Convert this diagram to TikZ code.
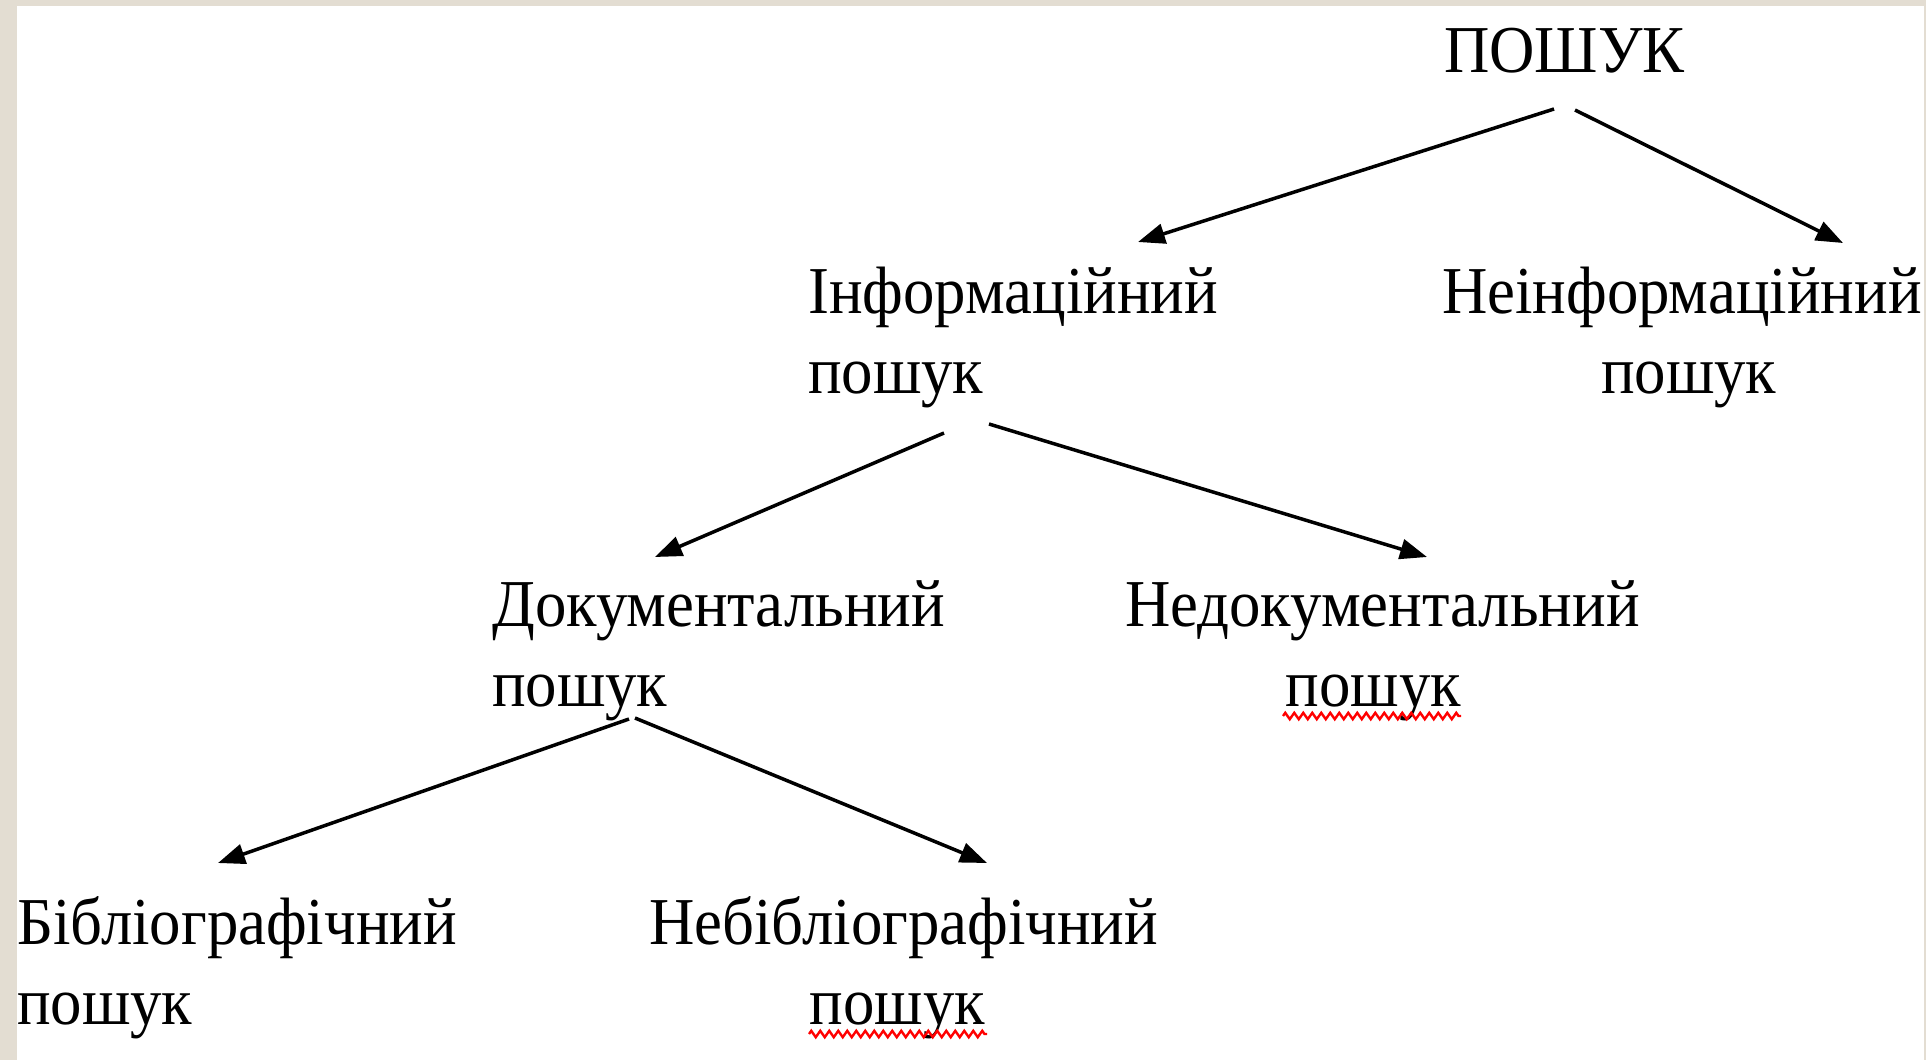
\documentclass[tikz,border=0pt]{standalone}
\usepackage{fontspec}
\setmainfont{Liberation Serif}[FakeStretch=0.937]
\usetikzlibrary{arrows.meta,calc,decorations.pathmorphing}
\definecolor{pagebeige}{RGB}{227,221,210}
\begin{document}
\begin{tikzpicture}[x=1pt,y=-1pt,
  lbl/.style={inner sep=0pt, anchor=base west, font=\fontsize{67}{80}\selectfont},
  arr/.style={line width=3.5pt, -{Triangle[length=27pt,width=20pt]}},
  wavy/.style={red, line width=2.4pt, decorate, decoration={zigzag,segment length=9pt,amplitude=3.2pt}}]
\fill[pagebeige] (0,0) rectangle (1926,1060);
\fill[white] (17,6) rectangle (1924,1060);
\useasboundingbox (0,0) rectangle (1926,1060);

% base west of a two-line node = baseline of its last line
\node[lbl] (root) at (1444,72) {ПОШУК};
\node[lbl, align=left] (info) at (808,393) {Інформаційний\\пошук};
\node[lbl, align=center] (noninfo) at (1442,393) {Неінформаційний\\\hspace*{14pt}пошук};
\node[lbl, align=left] (doc) at (492,706) {Документальний\\пошук};
\node[lbl, align=center] (nondoc) at (1125,706) {Недокументальний\\пошук\hspace*{18pt}};
\node[lbl, align=left] (bib) at (17,1024) {Бібліографічний\\пошук};
\node[lbl, align=center] (nonbib) at (649,1024) {Небібліографічний\\пошук\hspace*{12pt}};

\draw[arr] ($(root.base west)+(110,37)$) -- ($(info.base west)+(330,-151)$);
\draw[arr] ($(root.base west)+(131,38)$) -- ($(noninfo.base west)+(401,-150)$);
\draw[arr] ($(info.base west)+(136,40)$) -- ($(doc.base west)+(163,-149)$);
\draw[arr] ($(info.base west)+(181,31)$) -- ($(nondoc.base west)+(302,-149)$);
\draw[arr] ($(doc.base west)+(137,13)$) -- ($(bib.base west)+(201,-161)$);
\draw[arr] ($(doc.base west)+(143,12)$) -- ($(nonbib.base west)+(338,-161)$);

\draw[wavy] ($(nondoc.base west)+(158,10)$) -- ($(nondoc.base west)+(336,10)$);
\draw[wavy] ($(nonbib.base west)+(160,10)$) -- ($(nonbib.base west)+(338,10)$);
\end{tikzpicture}
\end{document}
